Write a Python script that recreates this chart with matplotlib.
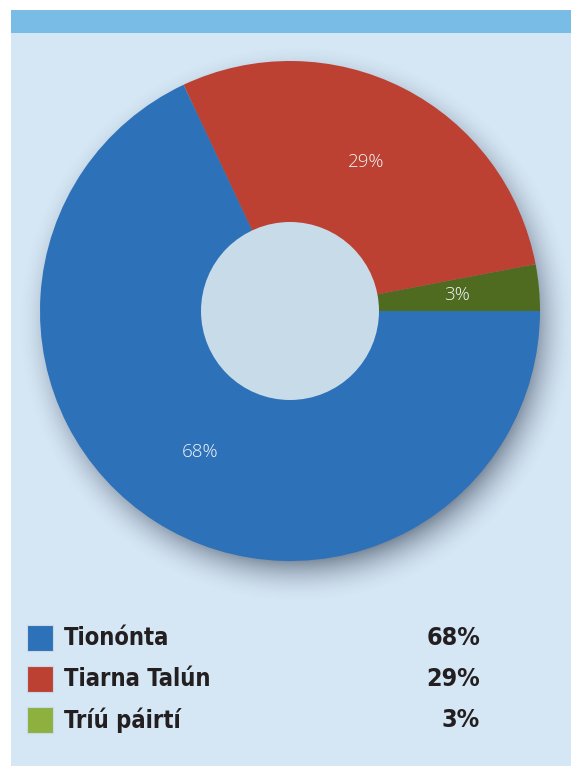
import numpy as np
import matplotlib.pyplot as plt
from matplotlib.patches import Rectangle, Circle
from matplotlib import font_manager

W, H = 571, 766

# data (pie order: counter-clockwise from 3 o'clock)
pie_labels = ["Tríú páirtí", "Tiarna Talún", "Tionónta"]
pie_values = [3, 29, 68]
pie_colors = ["#4E6B20", "#BC4132", "#2D71B8"]

legend_labels = ["Tionónta", "Tiarna Talún", "Tríú páirtí"]
legend_values = [68, 29, 3]
legend_colors = ["#2D71B8", "#BC4132", "#8DB03E"]

names = {f.name for f in font_manager.fontManager.ttflist}
narrow = "Liberation Sans Narrow" if "Liberation Sans Narrow" in names else "DejaVu Sans"

fig = plt.figure(figsize=(W / 100, H / 100), dpi=100)
fig.patch.set_facecolor("white")
ax = fig.add_axes([0, 0, 1, 1])
ax.set_xlim(0, W)
ax.set_ylim(0, H)
ax.set_aspect("equal")
ax.axis("off")

# panel + top bar
ax.add_patch(Rectangle((11, 0), W - 11, H - 10, facecolor="#D5E6F5", edgecolor="none", zorder=0))
ax.add_patch(Rectangle((11, H - 33), W - 11, 23, facecolor="#79BDE7", edgecolor="none", zorder=1))

cx, cy, R = 290, H - 311, 250

# soft drop shadow (raster)
gx, gy = np.meshgrid(np.arange(11, W) + 0.5, np.arange(0, H - 33) + 0.5)
d = np.hypot(gx - (cx + 7), gy - (cy - 13))
t = np.clip((d - (R - 15)) / 45.0, 0, 1)
a = 0.7 * (1 - t) ** 2
img = np.zeros(gx.shape + (4,))
img[..., 0] = 0.32
img[..., 1] = 0.37
img[..., 2] = 0.44
img[..., 3] = a
ax.imshow(img, extent=(11, W, 0, H - 33), origin="lower", zorder=2, interpolation="bilinear")

wedges, _ = ax.pie(pie_values, colors=pie_colors, startangle=0, counterclock=True,
                   center=(cx, cy), radius=R,
                   wedgeprops=dict(linewidth=0, zorder=3))
for w in wedges:
    w.set_zorder(3)
ax.set_xlim(0, W)
ax.set_ylim(0, H)
ax.set_aspect("equal")

# hole
ax.add_patch(Circle((cx, cy), 89, facecolor="#C8DBE8", edgecolor="none", zorder=4))

# wedge labels
start = 0.0
total = sum(pie_values)
for v in pie_values:
    ang = np.deg2rad(start + v / total * 360 / 2)
    start += v / total * 360
    r = 0.67 * R
    ax.text(cx + r * np.cos(ang), cy + r * np.sin(ang), f"{v}%", color="#F2F5FA",
            fontsize=13.5, ha="center", va="center", family="Open Sans",
            fontweight="light", zorder=5)

# legend
row_y = [H - 638, H - 679, H - 720]
for lab, val, col, y in zip(legend_labels, legend_values, legend_colors, row_y):
    ax.add_patch(Rectangle((27, y - 13), 26, 26, facecolor=col, edgecolor="#c9d8e6",
                           linewidth=0.8, zorder=3))
    ax.text(64, y, lab, fontsize=17, fontweight="bold", color="#231F20",
            family=narrow, fontstretch="condensed", ha="left", va="center")
    ax.text(480, y, f"{val}%", fontsize=18, fontweight="bold", color="#231F20",
            family=narrow, fontstretch="condensed", ha="right", va="center")

fig.savefig("out.png", dpi=100)
